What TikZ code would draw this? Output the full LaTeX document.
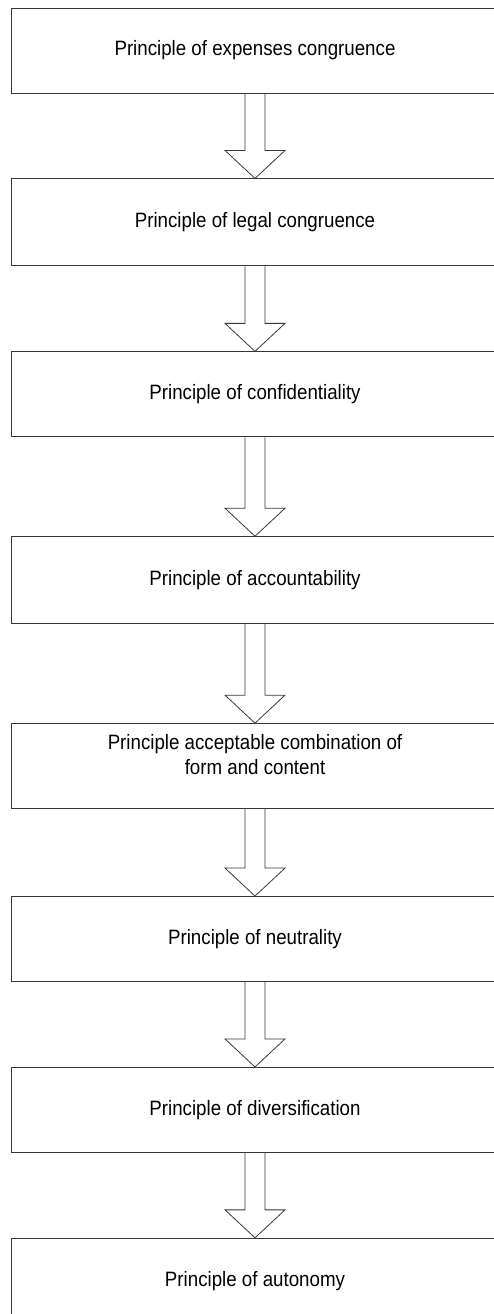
\documentclass[tikz,border=0pt]{standalone}
\usepackage{fontspec}
\setmainfont{Liberation Sans}[FakeStretch=0.9]
\usetikzlibrary{positioning, calc}
\definecolor{framegray}{RGB}{55,55,55}

\begin{document}
\begin{tikzpicture}[
        x=1pt, y=1pt,
        node distance=85pt,
        box/.style={rectangle, draw=framegray, line width=0.9pt, minimum width=488pt, minimum height=85pt, align=center, font=\fontsize{20.8}{25}\selectfont},
        blockarrow/.style={draw=framegray, line width=0.8pt, line join=miter}
    ]
        \useasboundingbox (0,0) rectangle (494,-1314);
        \node[box] (expenses) at (255,-50.5) {Principle of expenses congruence};
        \node[box, below=of expenses, minimum height=87pt] (legal) {Principle of legal congruence};
        \node[box, below=of legal] (confid) {Principle of confidentiality};
        \node[box, below=99pt of confid, minimum height=87pt] (account) {Principle of accountability};
        \node[box, below=99pt of account, text depth=24pt] (form) {Principle acceptable combination of\\form and content};
        \node[box, below=87pt of form] (neutral) {Principle of neutrality};
        \node[box, below=of neutral] (divers) {Principle of diversification};
        \node[box, below=of divers, minimum height=86pt] (autonomy) {Principle of autonomy};

        \foreach \a/\b in {expenses/legal, legal/confid, confid/account, account/form, form/neutral, neutral/divers, divers/autonomy}
            \draw[blockarrow] ($(\a.south)+(-10,0)$) -- ($(\b.north)+(-10,28)$) -- ++(-20,0) -- (\b.north) -- ++(30,28) -- ++(-20,0) -- ($(\a.south)+(10,0)$);
    \end{tikzpicture}
\end{document}
